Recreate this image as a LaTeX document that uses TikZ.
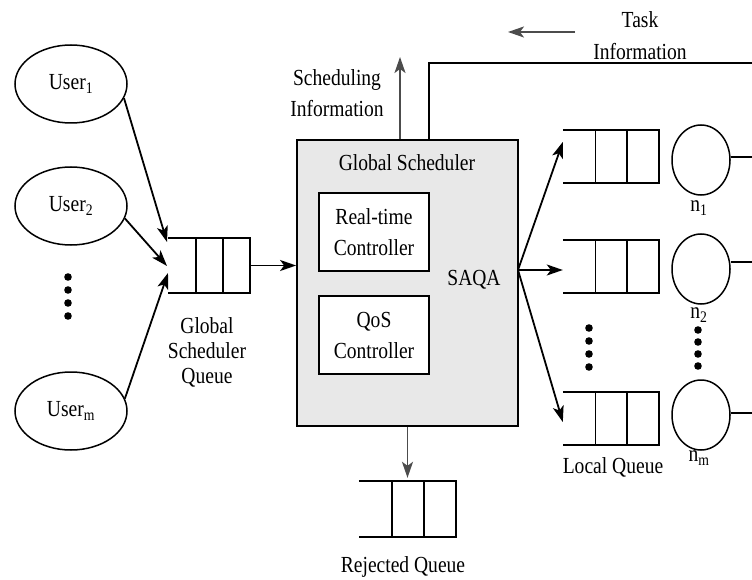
\documentclass[tikz,border=0pt]{standalone}
\usepackage{fontspec}
\setmainfont[FakeStretch=0.85]{Liberation Serif}
\usetikzlibrary{shapes.geometric,arrows.meta,calc}
\newcommand{\qlines}[1]{%
  \draw[qline] (#1.north west) -- (#1.north east) -- (#1.south east) -- (#1.south west);
  \draw[qline] ($(#1.north west)!0.34!(#1.north east)$) -- ($(#1.south west)!0.34!(#1.south east)$);
  \draw[qline] ($(#1.north west)!0.67!(#1.north east)$) -- ($(#1.south west)!0.67!(#1.south east)$);}
\begin{document}
\begin{tikzpicture}[x=1pt,y=1pt,
  every node/.style={font=\fontsize{23}{28}\selectfont, inner sep=0pt},
  qline/.style={line width=1.8pt},
  arr/.style={line width=1.8pt,-{Stealth[length=16pt,width=11pt,inset=4pt]}},
  garr/.style={arr, draw=black!70, fill=black!70},
  user/.style={ellipse, draw, line width=1.5pt, minimum width=112pt, minimum height=78pt},
  proc/.style={ellipse, draw, line width=1.5pt, minimum width=58pt, minimum height=70pt},
  qnode/.style={rectangle, draw=none},
  dotc/.style={fill=black},
  ctrl/.style={rectangle, draw, line width=1.8pt, fill=white, minimum width=110pt, minimum height=78pt, align=center, font=\fontsize{23}{31}\selectfont}
]
\useasboundingbox (0,0) rectangle (752,-580);
\fill[white] (0,0) rectangle (752,-580);

% users
\node[user] (u1) at (71,-84) {User\textsubscript{1}};
\node[user] (u2) at (71,-206) {User\textsubscript{2}};
\node[user] (um) at (71,-411) {User\textsubscript{m}};
\foreach \yy in {277,290,303,316} \fill[dotc] (68,-\yy) circle (3.8);

% global queue
\node[qnode, minimum width=82pt, minimum height=55pt] (gq) at (209,-265.5) {};
\qlines{gq}
\node[align=center, font=\fontsize{23}{25}\selectfont] (gql) at (207,-352) {Global\\Scheduler\\Queue};
\coordinate (in1) at (167,-242);
\coordinate (in2) at (167,-266);
\coordinate (in3) at (168,-273);
\draw[arr] (u1.-15) -- (in1);
\draw[arr] (u2.-13) -- (in2);
\draw[arr] (um.13) -- (in3);

% global scheduler
\node[rectangle, draw, line width=1.8pt, fill=black!9, minimum width=221pt, minimum height=286pt] (gs) at (407.5,-283) {};
\node (gsl) at (407,-163) {Global Scheduler};
\node[ctrl] (rt) at (374,-232) {Real-time\\Controller};
\node[ctrl] (qos) at (374,-335) {QoS\\Controller};
\node (saqa) at (474,-280) {SAQA};
\draw[arr] (gq.east) -- (gq.east -| gs.west);

% top information
\coordinate (si) at (400,-57);
\draw[garr] ([xshift=-7.5pt]gs.north) -- (si);
\node[align=center, font=\fontsize{23}{31}\selectfont] (sil) at (337,-93) {Scheduling\\Information};
\coordinate (tk) at (752,-63);
\draw[line width=1.8pt] ([xshift=21.5pt]gs.north) |- (tk);
\coordinate (ta1) at (575,-32);
\coordinate (ta2) at (508,-32);
\draw[garr] (ta1) -- (ta2);
\node[align=center, font=\fontsize{23}{32}\selectfont] (til) at (640,-36) {Task\\Information};

% local queues
\node[qnode, minimum width=96pt, minimum height=53pt] (lq1) at (611,-156.5) {};
\node[qnode, minimum width=96pt, minimum height=53pt] (lq2) at (611,-266.5) {};
\node[qnode, minimum width=96pt, minimum height=53pt] (lqm) at (611,-418.5) {};
\qlines{lq1}
\qlines{lq2}
\qlines{lqm}
\foreach \yy in {328,341,354,367} \fill[dotc] (589,-\yy) circle (3.8);
\node (lql) at (613,-467) {Local Queue};

\coordinate (sq) at (518,-270);
\draw[arr] (sq) -- ([yshift=14.5pt]lq1.west);
\draw[arr] (sq) -- ([yshift=-3.5pt]lq2.west);
\draw[arr] (sq) -- ([yshift=-3.5pt]lqm.west);

% processing nodes
\node[proc] (n1) at (701,-160) {};
\node[proc] (n2) at (701,-269) {};
\node[proc] (nm) at (701,-415) {};
\node (n1l) at (699,-208) {n\textsubscript{1}};
\node (n2l) at (699,-315) {n\textsubscript{2}};
\node (nml) at (699,-458) {n\textsubscript{m}};
\foreach \yy in {330,342,354,366} \fill[dotc] (698,-\yy) circle (3.8);
\coordinate (o1) at (752,-157);
\coordinate (o2) at (752,-262);
\coordinate (om) at (752,-413);
\draw[line width=1.5pt] (n1.east |- o1) -- (o1);
\draw[line width=1.5pt] (n2.east |- o2) -- (o2);
\draw[line width=1.5pt] (nm.east |- om) -- (om);

% rejected queue
\node[qnode, minimum width=97pt, minimum height=56pt] (rq) at (407.5,-509) {};
\qlines{rq}
\draw[garr] (gs.south) -- ([yshift=3pt]rq.north);
\node (rql) at (403,-567) {Rejected Queue};
\end{tikzpicture}
\end{document}
